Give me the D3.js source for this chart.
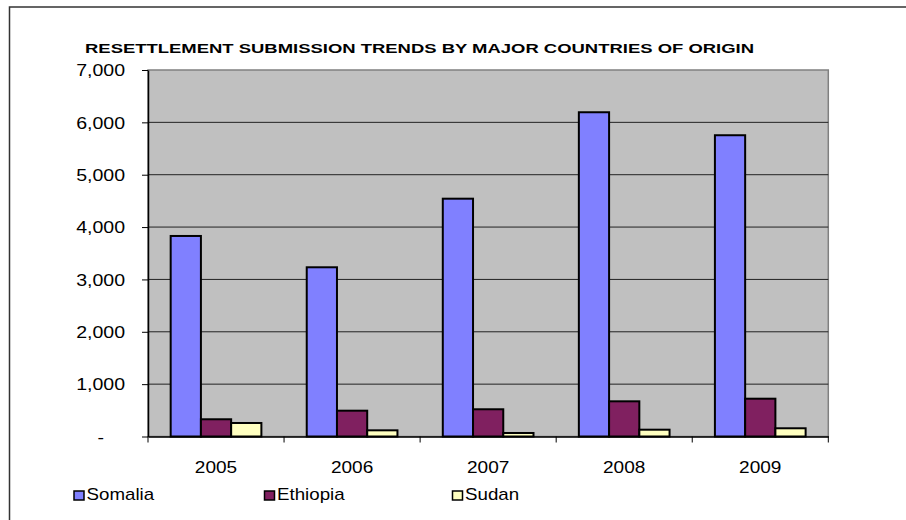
<!DOCTYPE html>
<html lang="en">
<head>
<meta charset="UTF-8">
<title>Resettlement Submission Trends</title>
<script src="https://d3js.org/d3.v7.min.js"></script>
<style>
  body { margin: 0; background: #fff; }
  svg { display: block; font-family: "Liberation Sans", Arial, sans-serif; }
</style>
</head>
<body>
<div id="chart"></div>
<script>
// chart data
const years = ["2005", "2006", "2007", "2008", "2009"];
const series = ["Somalia", "Ethiopia", "Sudan"];
const somalia = [3830, 3232, 4542, 6193, 5754];
const ethiopia = [329, 493, 520, 672, 722];
const sudan = [258, 118, 67, 130, 157];
const yTicks = [0, 1000, 2000, 3000, 4000, 5000, 6000, 7000];
const colors = ["#8080FF", "#802060", "#FFFFC0"];

const values = [somalia, ethiopia, sudan];
const width = 906, height = 520;
const plot = { left: 148, right: 828.3, top: 70, bottom: 436.5 };
const stretch = 1.15; // the original text is a bit wider than Arial

const svg = d3.select("#chart").append("svg")
    .attr("width", width)
    .attr("height", height);

svg.append("rect").attr("width", width).attr("height", height).attr("fill", "#fff");

// outer frame (right and bottom edges fall outside the window)
svg.append("rect")
    .attr("x", 9.5).attr("y", 7)
    .attr("width", width + 20).attr("height", height + 20)
    .attr("fill", "none")
    .attr("stroke", "#333")
    .attr("stroke-width", 1.5);

// title
svg.append("text")
    .attr("x", 85).attr("y", 53)
    .attr("font-size", 12.5)
    .attr("font-weight", "bold")
    .attr("textLength", 669)
    .attr("lengthAdjust", "spacingAndGlyphs")
    .text("RESETTLEMENT SUBMISSION TRENDS BY MAJOR COUNTRIES OF ORIGIN");

const x0 = d3.scaleBand().domain(years).range([plot.left, plot.right]).padding(0);
const bw = x0.bandwidth();
const barW = bw / 4.5; // Excel gap width 150%
const x1 = d3.scaleBand().domain(series).range([barW * 0.75, bw - barW * 0.75]).padding(0);
const y = d3.scaleLinear().domain([0, 7000]).range([plot.bottom, plot.top]);

// plot area
svg.append("rect")
    .attr("x", plot.left).attr("y", plot.top)
    .attr("width", plot.right - plot.left).attr("height", plot.bottom - plot.top)
    .attr("fill", "#C0C0C0")
    .attr("stroke", "#808080")
    .attr("stroke-width", 1.5);

// gridlines
svg.append("g")
    .selectAll("line")
    .data(yTicks.filter(d => d > 0 && d < 7000))
    .join("line")
    .attr("x1", plot.left).attr("x2", plot.right)
    .attr("y1", d => y(d)).attr("y2", d => y(d))
    .attr("stroke", "#222")
    .attr("stroke-width", 1);

// bars
const groups = svg.append("g")
    .selectAll("g")
    .data(years)
    .join("g")
    .attr("transform", d => `translate(${x0(d)},0)`);

groups.selectAll("rect")
    .data((d, i) => series.map((s, j) => ({ s, v: values[j][i], c: colors[j] })))
    .join("rect")
    .attr("x", d => x1(d.s))
    .attr("width", x1.bandwidth())
    .attr("y", d => y(d.v))
    .attr("height", d => y(0) - y(d.v))
    .attr("fill", d => d.c)
    .attr("stroke", "#000")
    .attr("stroke-width", 2);

// y axis
const yAxis = svg.append("g")
    .attr("transform", `translate(${plot.left},0)`)
    .call(d3.axisLeft(y).tickValues(yTicks).tickSize(6).tickSizeOuter(0).tickPadding(17)
        .tickFormat(d => d === 0 ? "-" : d3.format(",")(d)));
yAxis.select(".domain").attr("stroke", "#000").attr("stroke-width", 1.5);
yAxis.selectAll(".tick line").attr("stroke", "#000");
yAxis.selectAll(".tick text")
    .attr("font-size", 17)
    .attr("fill", "#000")
    .attr("font-family", null)
    .each(function (d) {
        const t = d3.select(this);
        const tx = +t.attr("x") - (d === 0 ? 21 : 0);
        t.attr("x", 0).attr("dy", null).attr("y", 5.8)
            .attr("transform", `translate(${tx},0) scale(${stretch},1)`);
    });

// x axis
const xAxis = svg.append("g")
    .attr("transform", `translate(0,${plot.bottom})`)
    .call(d3.axisBottom(x0).tickSize(0).tickSizeOuter(0));
xAxis.select(".domain").attr("stroke", "#000").attr("stroke-width", 1.5);
xAxis.selectAll(".tick text")
    .attr("font-size", 17)
    .attr("fill", "#000")
    .attr("font-family", null)
    .attr("y", 0).attr("dy", null)
    .attr("transform", `translate(0,36) scale(${stretch - 0.03},1)`);

// boundary ticks on the category axis
xAxis.append("g")
    .selectAll("line")
    .data(years.map(d => x0(d)).concat([plot.right]))
    .join("line")
    .attr("x1", d => d).attr("x2", d => d)
    .attr("y1", 0).attr("y2", 6)
    .attr("stroke", "#000");

// legend
const legendX = [74, 264.5, 452.5];
const legend = svg.append("g")
    .selectAll("g")
    .data(series)
    .join("g")
    .attr("transform", (d, i) => `translate(${legendX[i]},491)`);
legend.append("rect")
    .attr("width", 10).attr("height", 9)
    .attr("fill", (d, i) => colors[i])
    .attr("stroke", "#000")
    .attr("stroke-width", 1.5);
legend.append("text")
    .attr("font-size", 16)
    .attr("transform", `translate(12.5,9) scale(1.17,1)`)
    .text(d => d);
</script>
</body>
</html>
